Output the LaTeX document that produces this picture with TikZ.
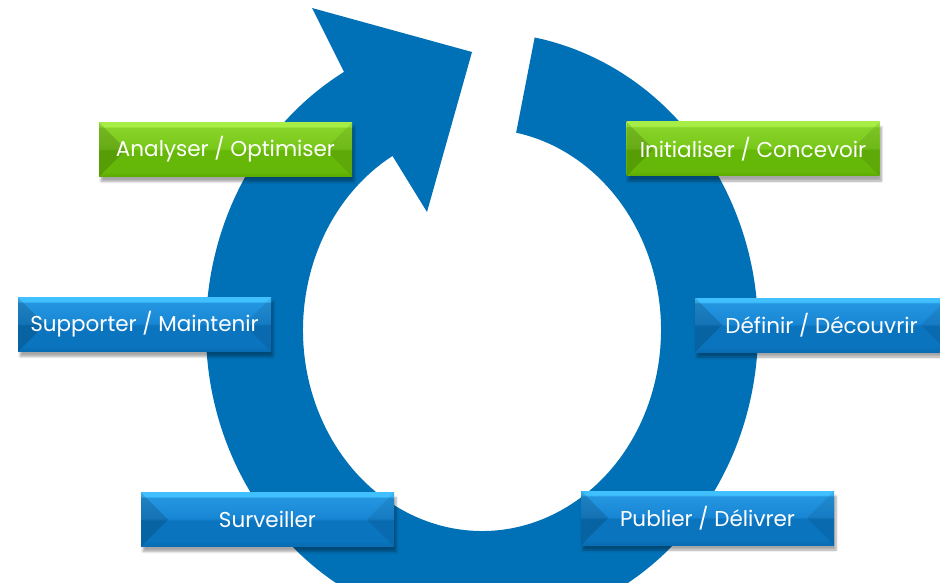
\documentclass[tikz,border=0pt]{standalone}
\usepackage{fontspec}
\setmainfont{Poppins}
\usepackage{tikz}
\usetikzlibrary{shadows.blur}

\definecolor{ringblue}{RGB}{0,113,183}
\definecolor{bluetop}{RGB}{64,192,255}
\definecolor{bluehi}{RGB}{36,150,224}
\definecolor{bluemid}{RGB}{24,134,212}
\definecolor{bluelo}{RGB}{10,116,190}
\definecolor{bluebot}{RGB}{8,108,178}
\definecolor{greentop}{RGB}{166,238,70}
\definecolor{greenhi}{RGB}{136,212,40}
\definecolor{greenmid}{RGB}{120,200,26}
\definecolor{greenlo}{RGB}{102,184,8}
\definecolor{greenbot}{RGB}{92,172,0}

\pgfdeclareverticalshading{bluebtn}{100bp}{color(0bp)=(bluebot); color(25bp)=(bluebot); color(30bp)=(bluelo); color(49bp)=(bluelo); color(51bp)=(bluemid); color(70bp)=(bluehi); color(71.5bp)=(bluetop); color(75bp)=(bluetop); color(100bp)=(bluetop)}
\pgfdeclareverticalshading{greenbtn}{100bp}{color(0bp)=(greenbot); color(25bp)=(greenbot); color(30bp)=(greenlo); color(49bp)=(greenlo); color(51bp)=(greenmid); color(70bp)=(greenhi); color(71.5bp)=(greentop); color(75bp)=(greentop); color(100bp)=(greentop)}

\begin{document}
\begin{tikzpicture}[x=1pt, y=1pt,
	btn/.style={rectangle, minimum width=253pt, minimum height=54pt, inner sep=0pt, text=white,
		font=\fontsize{21.5}{24}\selectfont,
		blur shadow={shadow xshift=2pt, shadow yshift=-5pt, shadow blur steps=6, shadow opacity=35},
		path picture={
			\fill[black, opacity=.14] (path picture bounding box.north west) -- ([xshift=27pt]path picture bounding box.west) -- (path picture bounding box.south west) -- cycle;
			\fill[black, opacity=.08] (path picture bounding box.north east) -- ([xshift=-27pt]path picture bounding box.east) -- (path picture bounding box.south east) -- cycle;
		}},
	greenbtn/.style={btn, shading=greenbtn},
	bluebtn/.style={btn, shading=bluebtn}]
	\useasboundingbox (0,0) rectangle (940,-583);
	\clip (0,0) rectangle (940,-583);
	
	\coordinate (C) at (482,-330);
	\fill[ringblue] ([shift={(79:276 and 298)}]C) arc[start angle=79, end angle=-240, x radius=276, y radius=298]
		-- (312,-8) -- (472,-52) -- (427,-212)
		-- ([shift={(120:179 and 201)}]C) arc[start angle=120, end angle=439, x radius=179, y radius=201] -- cycle;
	
	\node (1) at (753,-149) [greenbtn] {Initialiser / Concevoir};
	\node (2) at (821.5,-325) [bluebtn] {Définir / Découvrir};
	\node (3) at (707.5,-518) [bluebtn] {Publier / Délivrer};
	\node (4) at (267.5,-519.5) [bluebtn] {Surveiller};
	\node (5) at (144.5,-324.5) [bluebtn] {Supporter / Maintenir};
	\node (6) at (225.5,-149.5) [greenbtn] {Analyser / Optimiser};
\end{tikzpicture}
\end{document}
